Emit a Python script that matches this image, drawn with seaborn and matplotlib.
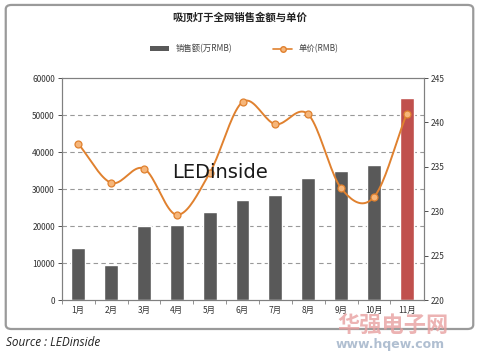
import matplotlib
matplotlib.use("Agg")
import matplotlib.pyplot as plt
import numpy as np
import seaborn as sns
from matplotlib.lines import Line2D
from matplotlib.patches import FancyBboxPatch, Patch

months = ["1月", "2月", "3月", "4月", "5月", "6月", "7月", "8月", "9月", "10月", "11月"]
sales = [14200, 9500, 19900, 20400, 23800, 27000, 28400, 33000, 35000, 36500, 54600]
price = [237.6, 233.2, 234.8, 229.6, 234.3, 242.3, 239.8, 240.9, 232.6, 231.6, 241.0]

title = "吸顶灯于全网销售金额与单价"
bar_label = "销售额(万RMB)"
line_label = "单价(RMB)"

sns.set_theme(style="white")
plt.rcParams["font.family"] = ["Noto Sans CJK SC", "DejaVu Sans"]


def smooth(xs, ys, n=20):
    # Catmull-Rom path through the points, like Excel's smoothed line
    xs = np.asarray(xs, float)
    ys = np.asarray(ys, float)
    px = np.concatenate([[2 * xs[0] - xs[1]], xs, [2 * xs[-1] - xs[-2]]])
    py = np.concatenate([[2 * ys[0] - ys[1]], ys, [2 * ys[-1] - ys[-2]]])
    ox, oy = [], []
    t = np.linspace(0, 1, n, endpoint=False)
    for i in range(1, len(px) - 2):
        for p, o in ((px, ox), (py, oy)):
            p0, p1, p2, p3 = p[i - 1], p[i], p[i + 1], p[i + 2]
            o.extend(0.5 * ((2 * p1) + (-p0 + p2) * t + (2 * p0 - 5 * p1 + 4 * p2 - p3) * t**2
                            + (-p0 + 3 * p1 - 3 * p2 + p3) * t**3))
    ox.append(xs[-1])
    oy.append(ys[-1])
    return np.array(ox), np.array(oy)


fig = plt.figure(figsize=(4.79, 3.53), dpi=100)
fig.patch.set_facecolor("white")
frame = FancyBboxPatch((0.012, 0.068), 0.976, 0.918, boxstyle="round,pad=0,rounding_size=0.012",
                       transform=fig.transFigure, facecolor="white", edgecolor="#9a9a9a",
                       linewidth=1.6, zorder=-5)
fig.patches.append(frame)

ax = fig.add_axes([0.129, 0.150, 0.756, 0.629])
ax.patch.set_alpha(0)
colors = ["#595959"] * (len(months) - 1) + ["#C0504D"]
sns.barplot(x=months, y=sales, hue=months, palette=colors, legend=False, width=0.42,
            saturation=1, ax=ax, zorder=2)
ax.set_xlim(-0.47, 10.52)
ax.set_ylim(0, 60000)
ax.set_yticks(range(0, 60001, 10000))
for v in range(10000, 60000, 10000):
    ax.axhline(v, color="#999999", linestyle=(0, (4, 3)), linewidth=0.8, zorder=1)
ax.tick_params(axis="y", labelsize=6, length=3, width=0.6, direction="out", left=True, colors="#333333", pad=2)
ax.tick_params(axis="x", labelsize=6, length=0, colors="#333333", pad=4)
ax.set_xticks(np.arange(len(months)) - 0.5, minor=True)
ax.tick_params(axis="x", which="minor", length=3, width=0.6, direction="out", bottom=True, color="#808080")
for s in ax.spines.values():
    s.set_color("#808080")
    s.set_linewidth(0.8)
ax.set_xlabel("")
ax.set_ylabel("")

ax2 = ax.twinx()
ax2.set_ylim(220, 245)
ax2.set_yticks(range(220, 246, 5))
ax2.tick_params(axis="y", labelsize=6, length=3, width=0.6, direction="out", right=True, colors="#333333", pad=2)
for s in ax2.spines.values():
    s.set_color("#808080")
    s.set_linewidth(0.8)
xs = np.arange(len(months))
sx, sy = smooth(xs, price)
ax2.plot(sx, sy, color="#E0812F", linewidth=1.4, zorder=3)
ax2.plot(xs, price, linestyle="none", marker="o", markersize=5, markerfacecolor="#F6B67A",
         markeredgecolor="#E0812F", markeredgewidth=0.9, zorder=4)

fig.text(0.50, 0.950, title, ha="center", va="center", fontsize=7.5, fontweight="bold", color="#222222")
handles = [Patch(facecolor="#595959", edgecolor="none"),
           Line2D([0], [0], color="#E0812F", linewidth=1.2, marker="o", markersize=4,
                  markerfacecolor="#F6B67A", markeredgecolor="#E0812F")]
fig.legend(handles, [bar_label, line_label], loc="center", bbox_to_anchor=(0.51, 0.862), ncol=2,
           frameon=False, fontsize=6, columnspacing=5, handlelength=2.2, handleheight=0.5,
           labelcolor="#444444")

# watermarks
fig.text(0.36, 0.510, "LEDinside", fontsize=14, color="#1a1a1a", ha="left", va="center",
         family=["DejaVu Sans"], zorder=5)
fig.text(0.705, 0.075, "华强电子网", fontsize=16, color="#E8A0A0", alpha=0.8, ha="left", va="center",
         fontweight="bold", zorder=5)
fig.text(0.70, 0.025, "www.hqew.com", fontsize=9, color="#A8B8CC", alpha=0.9, ha="left", va="center",
         fontweight="bold", family=["DejaVu Sans"], zorder=5)

fig.text(0.012, 0.030, "Source : LEDinside", fontsize=8.5, style="italic", color="#222222",
         ha="left", va="center", family=["Open Sans", "DejaVu Sans"])

fig.savefig("out.png", dpi=100, facecolor="white")
